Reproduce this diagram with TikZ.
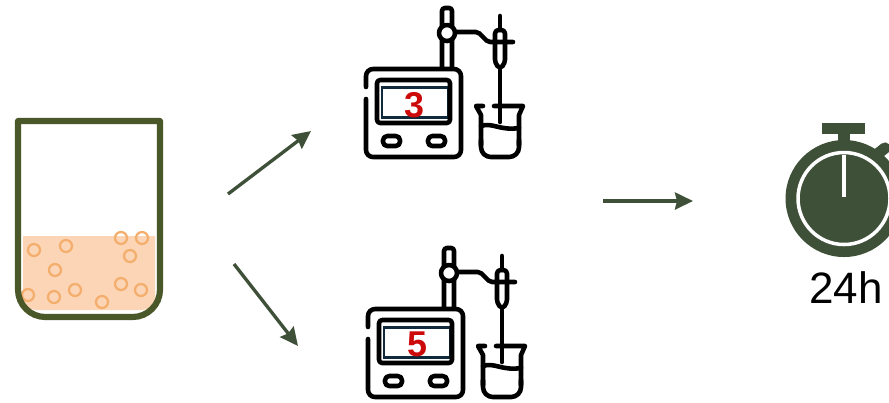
\documentclass[tikz,border=0pt]{standalone}
\usepackage{fontspec}
\setmainfont{Liberation Sans}
\usetikzlibrary{arrows.meta}
\definecolor{olive}{HTML}{4A5729}
\definecolor{moss}{HTML}{3F5038}
\definecolor{liquid}{HTML}{FBD5B5}
\definecolor{bubble}{HTML}{F4AF6E}
\definecolor{display}{HTML}{0E2A3B}
\definecolor{readout}{HTML}{CC0A0A}
\tikzset{
  label24/.style={font=\fontsize{12.5}{14}\selectfont,text=black},
  digit/.style={font=\bfseries\fontsize{10.2}{12}\selectfont,text=readout},
  glass/.style={draw=olive,line width=1.75pt},
  bubbledot/.style={draw=bubble,line width=0.65pt,fill=none},
  icon/.style={draw=black,line width=1.3pt,fill=none,line cap=round,line join=round},
  arr/.style={-{Stealth[length=1.8mm,width=1.7mm,inset=0.2mm]},draw=moss,line width=0.95pt},
  pics/phmeter/.style={code={
    % screen
    \fill[display] (381,86) rectangle (449,119);
    \fill[white] (383,89) rectangle (447,116);
    \draw[icon,rounded corners=0.9pt] (377,80) rectangle (450,123);
    % case with the gap on its left side
    \draw[icon,rounded corners=2pt] (366,87) -- (366,69) -- (461,69) -- (461,157) -- (366,157) -- (366,99);
    % buttons
    \draw[icon,rounded corners=1.2pt] (383,136) rectangle (400,146);
    \draw[icon,rounded corners=1.2pt] (428,136) rectangle (445,146);
    % stand
    \draw[icon,rounded corners=0.8pt] (442,67) -- (442,8) -- (452,8) -- (452,67);
    \draw[icon,fill=white] (447,33) circle (8);
    % probe, cable
    \draw[icon,rounded corners=1pt] (495,30) -- (495,63) -- (500,69) -- (505,63) -- (505,30) -- cycle;
    \draw[icon,rounded corners=0.6pt] (456,32) -- (478,32) -- (488,42) -- (513,42);
    \draw[icon] (500,16) -- (500,30);
    \draw[icon] (500,70) -- (500,122);
    % small beaker
    \draw[icon] (483,106) -- (476,106) -- (481,115) -- (481,145);
    \draw[icon,rounded corners=2.8pt] (481,140) -- (481,157) -- (519,157) -- (519,140);
    \draw[icon] (519,145) -- (519,115) -- (523,106) -- (494,106);
    \draw[icon] (481,126) .. controls (492,122) and (500,131) .. (519,128);
  }}
}
\begin{document}
\begin{tikzpicture}[x=0.01cm,y=-0.01cm]
\path[use as bounding box,fill=white] (0,0) rectangle (889,402);
% beaker with the culture
\fill[liquid] (23,236) -- (155,236) [rounded corners=3.6pt] -- (155,310) -- (23,310) [sharp corners] -- cycle;
\foreach \x/\y in {34/250,66/246,121/238,142/238,130/256,55/270,28/295,54/297,75/290,102/302,121/284,141/290}{
\draw[bubbledot] (\x,\y) circle (6);
}
\draw[glass,line join=round] (18,121) -- (160,121) [rounded corners=7.8pt] -- (160,317) -- (18,317) [sharp corners] -- cycle;
% meters
\pic (meterA) at (0,0) {phmeter};
\pic (meterB) at (2,240) {phmeter};
\node[digit] (phA) at (414,105) {3};
\node[digit] (phB) at (417,344) {5};
% timer
\begin{scope}
\clip (0,0) rectangle (889,402);
\fill[moss] (822,123) rectangle (865,134);
\fill[moss] (838,134) rectangle (850,145);
\draw[moss,line width=3.2pt,line cap=round] (870,160) -- (885,148);
\fill[moss] (844,198.5) circle (58.5);
\draw[white,line width=1pt] (844,198.5) circle (46);
\draw[white,line width=1pt] (844,155) -- (844,197);
\end{scope}
\node[label24] (hours) at (846,288) {24h};
% arrows
\coordinate (fromA) at (228,194); \coordinate (toA) at (311,131);
\coordinate (fromB) at (234,264); \coordinate (toB) at (298,346);
\coordinate (fromC) at (603,201); \coordinate (toC) at (693,201);
\draw[arr] (fromA)--(toA);
\draw[arr] (fromB)--(toB);
\draw[arr] (fromC)--(toC);
\end{tikzpicture}
\end{document}
